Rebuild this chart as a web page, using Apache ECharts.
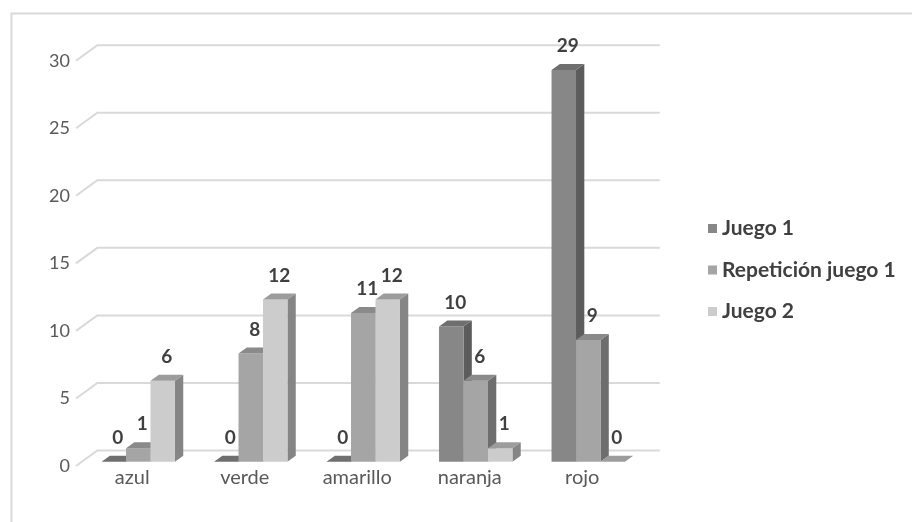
<!DOCTYPE html>
<html>
<head>
<meta charset="utf-8">
<script src="https://cdn.jsdelivr.net/npm/echarts@6/dist/echarts.min.js"></script>
<style>html,body{margin:0;padding:0;background:#fff;}#c{width:912px;height:522px;}</style>
</head>
<body>
<div id="c"></div>
<script>
const categories = ['azul', 'verde', 'amarillo', 'naranja', 'rojo'];
const seriesNames = ['Juego 1', 'Repetición juego 1', 'Juego 2'];
const juego1 = [0, 0, 0, 10, 29];
const repeticion = [1, 8, 11, 6, 9];
const juego2 = [6, 12, 12, 1, 0];
const yTicks = [0, 5, 10, 15, 20, 25, 30];

const palettes = [
  { front: '#878787', side: '#5c5c5c', top: '#6f6f6f' },
  { front: '#a5a5a5', side: '#6e6e6e', top: '#8a8a8a' },
  { front: '#cccccc', side: '#858585', top: '#9c9c9c' }
];
const FONT = 'Lato, "Open Sans", sans-serif';

const chart = echarts.init(document.getElementById('c'), null, { renderer: 'canvas' });

function barRenderer(sIdx) {
  const pal = palettes[sIdx];
  return function (params, api) {
    const cat = api.value(0), val = api.value(1);
    const top = api.coord([cat, val]);
    const base = api.coord([cat, 0]);
    const band = api.size([1, 0])[0];
    const bw = band * 0.2175;
    const ox = 6, oy = -4.3, dx = 8.3, dy = -6;
    const x0 = top[0] + ox + (sIdx - 1.5) * bw;
    const x1 = x0 + bw;
    const yT = top[1] + oy, yB = base[1] + oy;
    const children = [];
    children.push({ type: 'polygon', shape: { points: [[x1, yT], [x1 + dx, yT + dy], [x1 + dx, yB + dy], [x1, yB]] }, style: { fill: pal.side } });
    if (yB - yT > 0.1) {
      children.push({ type: 'rect', shape: { x: x0, y: yT, width: bw, height: yB - yT }, style: { fill: pal.front } });
    }
    children.push({ type: 'polygon', shape: { points: [[x0, yT], [x1, yT], [x1 + dx, yT + dy], [x0 + dx, yT + dy]] }, style: { fill: pal.top } });
    children.push({ type: 'text', style: { text: String(val), x: (x0 + x1) / 2 + 4, y: yT + dy - 18, align: 'center', verticalAlign: 'middle', fontFamily: FONT, fontWeight: 'bold', fontSize: 19, fill: '#404040' } });
    return { type: 'group', children: children };
  };
}

function wallRenderer(params, api) {
  const v = api.value(1);
  const p = api.coord([0, v]);
  const band = api.size([1, 0])[0];
  const left = p[0] - band / 2;
  const right = left + band * categories.length;
  return {
    type: 'polyline',
    shape: { points: [[left, p[1]], [left + 21.3, p[1] - 15.5], [right + 21.3, p[1] - 15.5]] },
    style: { stroke: '#d9d9d9', lineWidth: 2, fill: null }
  };
}

const dataSets = [juego1, repeticion, juego2];

const option = {
  animation: false,
  backgroundColor: '#ffffff',
  graphic: [{
    type: 'rect', left: 9, top: 11, shape: { width: 920, height: 530 },
    style: { fill: null, stroke: '#d9d9d9', lineWidth: 2 }, silent: true
  }],
  grid: { left: 76, top: 60.7, width: 562.5, height: 405.3 },
  xAxis: {
    type: 'category', data: categories,
    axisLine: { show: false }, axisTick: { show: false },
    axisLabel: { color: '#595959', fontSize: 20, fontFamily: FONT, margin: 2 }
  },
  yAxis: {
    type: 'value', min: 0, max: 30, interval: 5,
    axisLine: { show: false }, axisTick: { show: false }, splitLine: { show: false },
    axisLabel: { color: '#595959', fontSize: 18, fontFamily: FONT, margin: 6 }
  },
  legend: {
    data: seriesNames, orient: 'vertical', left: 703, top: 213,
    icon: 'rect', itemWidth: 9, itemHeight: 9, itemGap: 20.5, itemStyle: { borderWidth: 0 },
    textStyle: { color: '#404040', fontWeight: 'bold', fontSize: 21, fontFamily: FONT }
  },
  series: [
    {
      type: 'custom', name: 'walls', z: 1, silent: true,
      renderItem: wallRenderer,
      data: yTicks.map(v => [0, v])
    }
  ].concat(dataSets.map((arr, s) => ({
    type: 'custom', name: seriesNames[s], z: 2,
    itemStyle: { color: palettes[s].front },
    renderItem: barRenderer(s),
    data: arr.map((v, i) => [i, v])
  })))
};
chart.setOption(option);
</script>
</body>
</html>
